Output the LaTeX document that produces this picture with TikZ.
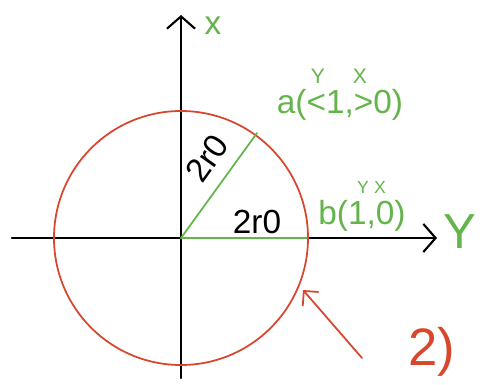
\documentclass[tikz,border=0pt]{standalone}
\usepackage{fontspec}
\setmainfont{Liberation Sans}
\usetikzlibrary{arrows.meta}
\definecolor{penred}{RGB}{215,70,45}
\definecolor{pengreen}{RGB}{100,180,75}

\begin{document}
\begin{tikzpicture}[line cap=round,line join=round,x=0.02cm,y=-0.02cm]
	\useasboundingbox (0,0) rectangle (490,385);
	\tikzset{
		axis/.style={line width=1.2pt,-{Straight Barb[length=7pt,width=16pt,line width=1.2pt]}},
		radius line/.style={pengreen,line width=1pt},
		pen label/.style={inner sep=1pt,font=\fontsize{19}{22}\selectfont}
	}
	\coordinate (o) at (181,238);
	\coordinate (xl) at (12,238);
	\coordinate (xr) at (437,238);
	\coordinate (yb) at (181,378);
	\coordinate (yt) at (181,15);
	\coordinate (a) at (257,133);
	\coordinate (b) at (307,238);
	\coordinate (tail) at (362,358);
	\coordinate (tip) at (303,290);

	% axes
	\draw [axis] (xl) -- (xr);
	\draw [axis] (yb) -- (yt);
	% circle
	\draw [penred,line width=1pt] (o) circle (127);
	% radii
	\draw [radius line] (o) -- (a);
	\draw [radius line] (o) -- (b);
	\node[pen label,rotate=54.5] (ra) at (207,158) {2r0};
	\node[pen label] (rb) at (257,222) {2r0};

	% axis names
	\node[pen label,pengreen] (xname) at (213,26) {x};
	\node[pen label,pengreen,font=\fontsize{28}{32}\selectfont] (yname) at (460,232) {Y};

	% points
	\node[pen label,pengreen] (alab) at (340,105) {a(<1,>0)};
	\node[pen label,pengreen,font=\large] (ay) at (318,76) {Y};
	\node[pen label,pengreen,font=\large] (ax) at (360,76) {X};
	\node[pen label,pengreen] (blab) at (362,216) {b(1,0)};
	\node[pen label,pengreen,font=\normalsize] (by) at (363,187) {Y};
	\node[pen label,pengreen,font=\normalsize] (bx) at (380,187) {X};

	% marker
	\draw [penred,line width=1pt,-{Straight Barb[length=6pt,width=12pt]}] (tail) -- (tip);
	\node[pen label,penred,font=\fontsize{30}{34}\selectfont] (note) at (432,352) {2)};
\end{tikzpicture}
\end{document}
